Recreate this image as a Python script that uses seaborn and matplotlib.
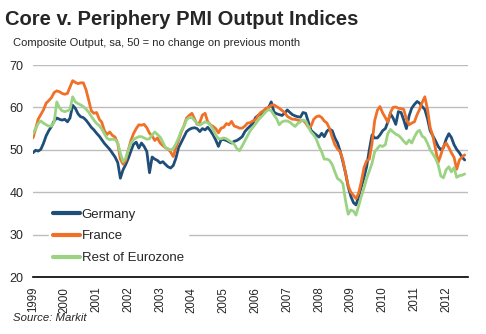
import numpy as np
import pandas as pd
import matplotlib
matplotlib.use("Agg")
import matplotlib.pyplot as plt
import matplotlib.dates as mdates
import seaborn as sns

# ---- data (monthly, Jan 1999 - Aug 2012) ----
germany = [
    49.3, 49.9, 49.7, 50.1, 51.5, 53.3, 54.5, 55.5, 56.8, 57.5, 57.2, 57.0,
    57.2, 56.6, 57.5, 60.5, 59.8, 58.5, 57.8, 57.6, 57.0, 56.2, 55.3, 54.7,
    53.9, 53.2, 52.4, 51.5, 50.8, 50.1, 49.2, 48.3, 47.0, 43.3, 45.3, 46.5,
    48.0, 49.8, 51.3, 51.8, 50.4, 51.6, 50.8, 49.6, 44.6, 48.3, 47.8, 47.5,
    46.9, 47.2, 46.6, 46.0, 45.7, 46.3, 48.0, 50.5, 51.8, 53.0, 54.3, 54.8,
    55.1, 55.2, 55.0, 54.3, 55.0, 54.7, 55.3, 54.5, 53.5, 52.3, 50.8, 52.4,
    52.4, 52.2, 51.9, 51.6, 52.0, 52.2, 52.6, 53.1, 54.3, 55.0, 55.6, 56.2,
    57.6, 58.1, 58.4, 58.6, 59.3, 60.0, 61.3, 58.9, 58.5, 58.3, 58.1, 58.6,
    59.4, 58.8, 58.3, 58.0, 57.8, 57.7, 58.8, 58.6, 56.5, 54.6, 54.0, 53.5,
    53.0, 53.9, 53.1, 54.4, 54.9, 54.5, 52.8, 51.6, 49.6, 47.2, 44.5, 41.3,
    39.0, 37.5, 37.0, 39.0, 41.3, 43.5, 46.0, 50.0, 53.5, 52.8, 52.8, 53.5,
    54.5, 55.0, 56.5, 58.5, 57.5, 56.0, 59.0, 58.8, 57.0, 55.0, 58.0, 59.8,
    60.7, 61.4, 61.0, 60.2, 59.5, 57.3, 54.5, 53.3, 52.1, 50.8, 50.0, 50.5,
    52.5, 53.8, 52.9, 51.2, 50.1, 49.3, 48.3, 47.6,
]
france = [
    52.8, 55.0, 57.2, 58.3, 59.4, 61.0, 61.6, 62.3, 63.5, 63.9, 63.7, 63.3,
    63.1, 63.3, 64.8, 66.3, 65.9, 65.6, 65.8, 65.8, 64.2, 61.8, 59.2, 58.6,
    58.8, 57.2, 56.5, 54.5, 53.6, 54.2, 53.4, 53.0, 51.5, 47.8, 46.6, 47.5,
    50.0, 52.3, 53.8, 55.0, 55.9, 55.8, 56.0, 55.2, 53.9, 53.3, 52.2, 52.8,
    51.6, 51.0, 50.5, 50.2, 49.5, 48.4, 50.5, 52.3, 54.2, 55.6, 57.5, 58.1,
    58.6, 57.3, 56.0, 56.5, 58.2, 58.6, 56.6, 55.9, 55.5, 55.0, 54.0, 55.1,
    55.3, 56.2, 55.9, 56.7, 55.6, 55.4, 55.1, 55.1, 55.6, 56.3, 56.4, 56.8,
    57.1, 58.1, 58.8, 59.2, 59.8, 60.0, 60.5, 60.6, 60.2, 59.8, 59.3, 58.8,
    57.9, 57.5, 57.2, 57.2, 57.0, 56.8, 57.0, 56.3, 55.3, 55.6, 57.2, 57.8,
    58.0, 57.6, 56.8, 56.3, 55.0, 52.9, 51.2, 50.2, 49.5, 47.6, 44.5, 41.5,
    40.0, 39.2, 38.5, 39.8, 42.5, 45.8, 47.4, 47.8, 51.5, 56.8, 59.3, 60.2,
    58.7, 57.6, 56.5, 58.8, 60.0, 60.1, 59.8, 59.7, 59.5, 57.2, 55.9, 56.3,
    56.6, 58.3, 59.5, 61.2, 62.5, 59.5, 55.3, 53.2, 50.2, 47.0, 48.8, 50.8,
    51.6, 50.5, 49.3, 48.2, 45.4, 47.6, 48.3, 48.8,
]
rest_of_eurozone = [
    53.8, 55.0, 56.2, 56.8, 56.3, 55.9, 55.6, 55.6, 56.5, 61.3, 59.9, 59.2,
    59.0, 59.2, 59.5, 62.5, 61.3, 60.9, 60.6, 60.2, 59.6, 58.9, 57.9, 57.0,
    56.2, 55.7, 54.9, 53.8, 52.7, 52.4, 52.5, 52.4, 51.6, 49.2, 47.2, 48.0,
    50.0, 51.6, 52.4, 52.8, 53.1, 53.1, 52.8, 52.5, 52.6, 53.5, 54.2, 53.6,
    53.0, 51.8, 50.6, 50.2, 50.0, 50.3, 51.4, 52.8, 54.5, 55.5, 57.1, 57.6,
    57.6, 56.9, 56.2, 55.8, 56.2, 56.6, 56.4, 55.8, 54.8, 53.5, 52.6, 52.6,
    52.8, 52.6, 52.2, 51.8, 51.3, 50.3, 49.8, 50.9, 52.1, 53.3, 54.5, 55.3,
    56.1, 57.0, 57.6, 58.3, 59.0, 59.5, 59.2, 58.2, 57.3, 55.9, 56.6, 56.8,
    56.8, 56.5, 56.0, 55.5, 56.2, 56.6, 57.0, 56.8, 55.4, 54.2, 53.5, 52.5,
    50.8, 49.5, 47.8, 47.8, 47.5, 46.5, 44.8, 43.2, 42.8, 42.0, 38.0, 34.8,
    35.8, 35.5, 34.6, 36.8, 39.0, 41.0, 43.2, 45.0, 46.8, 49.5, 50.3, 51.0,
    50.8, 51.2, 53.8, 54.8, 54.2, 53.7, 53.4, 52.8, 52.0, 51.4, 52.3, 51.6,
    53.0, 54.2, 54.6, 53.2, 52.8, 51.5, 50.0, 49.0, 48.0, 46.5, 43.8, 43.4,
    45.3, 46.0, 44.8, 45.8, 43.5, 43.9, 44.0, 44.3,
]
series_names = ["Germany", "France", "Rest of Eurozone"]
series_colors = ["#1F4E79", "#F07027", "#9BD383"]
years = list(range(1999, 2013))
y_ticks = [20, 30, 40, 50, 60, 70]

dates = pd.date_range("1999-01-01", periods=len(germany), freq="MS")
df = pd.concat([
    pd.DataFrame({"date": dates, "value": vals, "series": name})
    for name, vals in zip(series_names, [germany, france, rest_of_eurozone])
], ignore_index=True)

sns.set_theme(style="white")
plt.rcParams["font.family"] = ["Liberation Sans", "DejaVu Sans"]

fig = plt.figure(figsize=(4.86, 3.34), dpi=100)
ax = fig.add_axes([33 / 486, 1 - 277 / 334, (468 - 33) / 486, (277 - 65) / 334])

sns.lineplot(data=df, x="date", y="value", hue="series", hue_order=series_names,
             palette=series_colors, linewidth=2.0, ax=ax, legend=False)

ax.set_ylim(20, 70)
ax.set_yticks(y_ticks)
ax.set_xlim(pd.Timestamp("1999-01-01"), pd.Timestamp("2012-09-08"))
ax.set_xticks([pd.Timestamp(f"{y}-01-01") for y in years])
ax.set_xticklabels([str(y) for y in years], rotation=90, fontsize=8.3)
ax.tick_params(axis="x", direction="out", length=4, width=1, color="black", pad=3)
ax.tick_params(axis="y", length=0, pad=7, labelsize=9)
ax.set_xlabel("")
ax.set_ylabel("")
for s in ["top", "right", "left"]:
    ax.spines[s].set_visible(False)
ax.spines["bottom"].set_color("black")
ax.spines["bottom"].set_linewidth(1.2)
ax.grid(axis="y", color="#BDBDBD", linewidth=1.0)
ax.grid(axis="x", visible=False)
ax.set_axisbelow(True)

handles = [plt.Line2D([], [], color=c, linewidth=3) for c in series_colors]
leg = ax.legend(handles, series_names, loc="upper left", bbox_to_anchor=(0.036, 0.342),
                frameon=True, fontsize=9.5, handlelength=2.05, handletextpad=0.15,
                labelspacing=0.72, borderpad=0.3, borderaxespad=0)
leg.get_frame().set_facecolor("white")
leg.get_frame().set_edgecolor("white")
leg.get_frame().set_alpha(1)

fig.text(5 / 486, 1 - 25 / 334, "Core v. Periphery PMI Output Indices",
         fontsize=14.5, fontweight="bold", va="baseline", ha="left")
fig.text(13 / 486, 1 - 46.5 / 334, "Composite Output, sa, 50 = no change on previous month",
         fontsize=8, va="baseline", ha="left")
fig.text(13 / 486, 1 - 321 / 334, "Source: Markit", fontsize=8.2, style="italic",
         va="baseline", ha="left")

fig.savefig("out.png", dpi=100)
